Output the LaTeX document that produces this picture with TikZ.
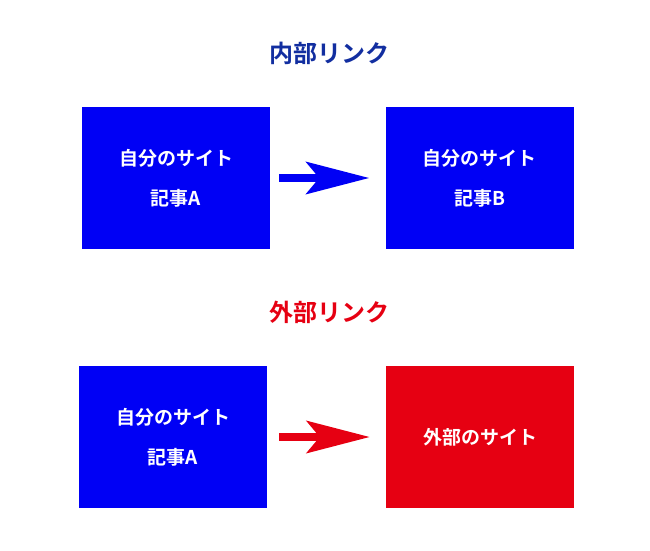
\documentclass[tikz,border=0pt]{standalone}
\usepackage{fontspec}
\newfontfamily\cjk{Noto Sans CJK JP Bold}
\usetikzlibrary{arrows.meta}
\definecolor{siteblue}{RGB}{0,0,245}
\definecolor{titleblue}{RGB}{18,46,160}
\definecolor{extred}{RGB}{230,0,18}
\tikzset{
  sitebox/.style={fill=#1, minimum width=188pt, minimum height=142pt, inner sep=0pt,
    text=white, align=center, font=\cjk\fontsize{19}{40}\selectfont},
  linkarrow/.style={draw=#1, line width=8pt, -{Stealth[length=63pt, width=32pt, inset=13pt]}},
  heading/.style={font=\cjk\fontsize{24}{28}\selectfont, text=#1}
}
\begin{document}
\begin{tikzpicture}[x=1pt, y=-1pt]
  \useasboundingbox (0,0) rectangle (650,551);
  % internal link
  \node[heading=titleblue] (intitle) at (329,53) {内部リンク};
  \node[sitebox=siteblue] (ownA) at (176,178) {自分のサイト\\記事A};
  \node[sitebox=siteblue] (ownB) at (479.5,178) {自分のサイト\\記事B};
  \draw[linkarrow=siteblue, shorten <=9pt, shorten >=16pt] (ownA) -- (ownB);
  % external link
  \node[heading=extred] (extitle) at (329,312) {外部リンク};
  \node[sitebox=siteblue] (ownA2) at (173,437) {自分のサイト\\記事A};
  \node[sitebox=extred] (other) at (480,437) {外部のサイト};
  \draw[linkarrow=extred, shorten <=12pt, shorten >=16pt] (ownA2) -- (other);
\end{tikzpicture}
\end{document}
